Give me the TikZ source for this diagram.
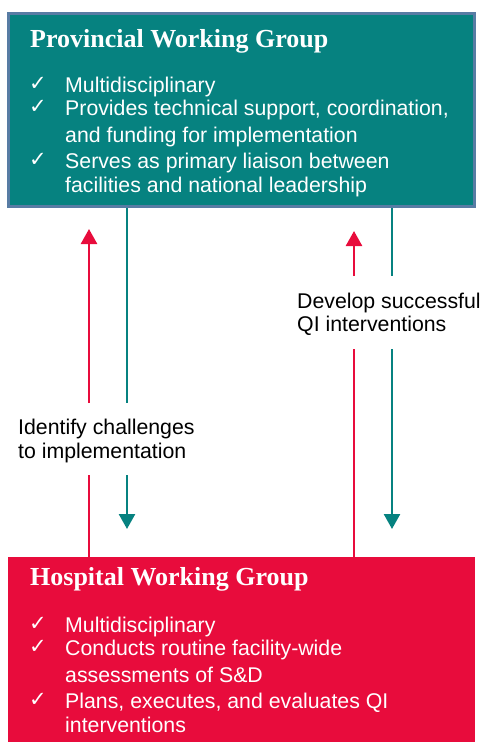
\documentclass[tikz,border=0pt]{standalone}
\usepackage{fontspec}
\setmainfont{Liberation Sans}
\newfontfamily\titlefont{Liberation Serif}
\newfontfamily\symfont{DejaVu Sans}
\usetikzlibrary{arrows.meta}
\definecolor{tealbox}{RGB}{6,130,128}
\definecolor{tealborder}{RGB}{88,124,164}
\definecolor{crimson}{RGB}{232,12,60}
\tikzset{
  boxtitle/.style={anchor=base west,inner sep=0pt,text=white,font=\titlefont\bfseries\fontsize{26}{30}\selectfont},
  bullettext/.style={anchor=base west,inner sep=0pt,text=white,font=\fontsize{21.3}{24}\selectfont},
  checkmark/.style={anchor=base west,inner sep=0pt,text=white,font=\symfont\fontsize{21}{24}\selectfont},
  label/.style={anchor=base west,inner sep=0pt,text=black,font=\fontsize{21.3}{24}\selectfont},
  redline/.style={draw=crimson,line width=2.5pt},
  tealline/.style={draw=tealbox,line width=2.5pt},
  tiphead/.style={-{Triangle[width=16pt,length=15pt]}}
}
\begin{document}
\begin{tikzpicture}[x=1pt,y=-1pt]
\useasboundingbox (0,0) rectangle (482,742);
% boxes
\node[draw=tealborder,line width=3pt,fill=tealbox,minimum width=466pt,minimum height=193pt,inner sep=0pt] (pwg) at (241.5,110) {};
\node[fill=crimson,minimum width=467pt,minimum height=200pt,inner sep=0pt] (hwg) at (241.5,657) {};
% top text
\node[boxtitle] (pt) at (30,47) {Provincial Working Group};
\node[checkmark] (pc1) at (29,90) {✓};
\node[bullettext] (p1) at (65,92) {Multidisciplinary};
\node[checkmark] (pc2) at (29,113) {✓};
\node[bullettext] (p2) at (65,115) {Provides technical support, coordination,};
\node[bullettext] (p2b) at (65,142) {and funding for implementation};
\node[checkmark] (pc3) at (29,166) {✓};
\node[bullettext] (p3) at (65,168) {Serves as primary liaison between};
\node[bullettext] (p3b) at (65,192) {facilities and national leadership};
% bottom text
\node[boxtitle] (ht) at (30,585) {Hospital Working Group};
\node[checkmark] (hc1) at (29,630) {✓};
\node[bullettext] (h1) at (65,632) {Multidisciplinary};
\node[checkmark] (hc2) at (29,653) {✓};
\node[bullettext] (h2) at (65,655) {Conducts routine facility-wide};
\node[bullettext] (h2b) at (65,682) {assessments of S\&D};
\node[checkmark] (hc3) at (29,706) {✓};
\node[bullettext] (h3) at (65,708) {Plans, executes, and evaluates QI};
\node[bullettext] (h3b) at (65,732) {interventions};
% labels
\node[label] (l1) at (18,434) {Identify challenges};
\node[label] (l1b) at (18,458) {to implementation};
\node[label] (l2) at (297,308) {Develop successful};
\node[label] (l2b) at (297,331) {QI interventions};
% coordinates for arrow segments
\coordinate (rA) at (89,229);
\coordinate (rAg) at (89,403);
\coordinate (rAh) at (89,475);
\coordinate (tA) at (127,529);
\coordinate (tAg) at (127,403);
\coordinate (tAh) at (127,475);
\coordinate (rB) at (354,231);
\coordinate (rBg) at (354,276);
\coordinate (rBh) at (354,349);
\coordinate (tB) at (392,529);
\coordinate (tBg) at (392,276);
\coordinate (tBh) at (392,349);
% left pair
\draw[redline] (hwg.north -| rA) -- (rAh);
\draw[redline,tiphead] (rAg) -- (rA);
\draw[tealline] (pwg.south -| tA) -- (tAg);
\draw[tealline,tiphead] (tAh) -- (tA);
% right pair
\draw[redline] (hwg.north -| rB) -- (rBh);
\draw[redline,tiphead] (rBg) -- (rB);
\draw[tealline] (pwg.south -| tB) -- (tBg);
\draw[tealline,tiphead] (tBh) -- (tB);
\end{tikzpicture}
\end{document}
